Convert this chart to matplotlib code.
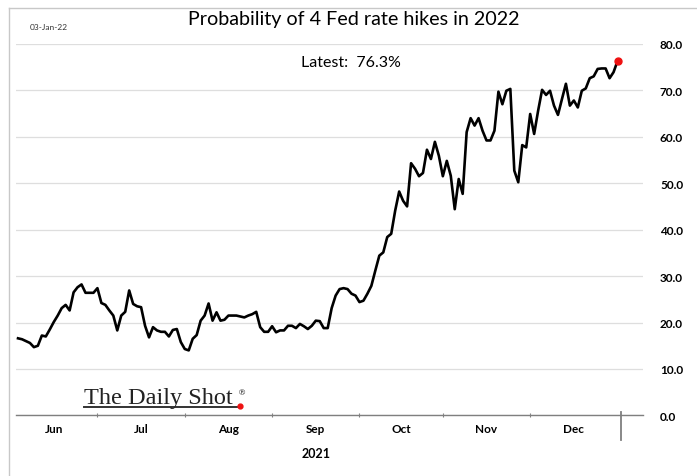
import numpy as np
import pandas as pd
import matplotlib
matplotlib.use("Agg")
import matplotlib.pyplot as plt
from matplotlib.lines import Line2D

# daily probability (%) of 4 Fed hikes in 2022, business days from 3-Jun-2021
prob = [
    16.6, 16.4, 16.0, 15.6, 14.7, 15.0, 17.2, 17.0, 18.5, 20.1,
    21.5, 23.1, 23.8, 22.6, 26.5, 27.6, 28.2, 26.4, 26.4, 26.4,
    27.4, 24.2, 23.8, 22.6, 21.5, 18.3, 21.5, 22.3, 26.9, 24.0,
    23.5, 23.3, 19.3, 16.8, 19.0, 18.3, 18.0, 18.0, 17.0, 18.4,
    18.6, 15.8, 14.3, 14.0, 16.5, 17.3, 20.4, 21.5, 24.1, 20.4,
    22.2, 20.4, 20.6, 21.5, 21.5, 21.5, 21.3, 21.1, 21.5, 21.8,
    22.3, 19.0, 18.0, 18.0, 19.2, 17.9, 18.3, 18.3, 19.3, 19.3,
    18.8, 19.7, 19.2, 18.6, 19.3, 20.4, 20.3, 18.8, 18.8, 23.1,
    25.8, 27.2, 27.4, 27.2, 26.2, 25.8, 24.4, 24.7, 26.2, 27.9,
    31.2, 34.4, 35.1, 38.4, 39.1, 44.1, 48.2, 46.2, 45.0, 54.3,
    53.1, 51.5, 52.2, 57.2, 55.2, 58.9, 55.9, 51.5, 54.8, 51.6,
    44.4, 50.9, 47.7, 61.0, 64.0, 62.4, 64.0, 61.3, 59.2, 59.2,
    61.3, 69.7, 67.0, 69.9, 70.3, 52.7, 50.2, 58.2, 57.7, 64.9,
    60.6, 65.6, 70.1, 69.0, 69.9, 66.7, 64.7, 68.1, 71.4, 66.7,
    67.8, 66.3, 69.9, 70.4, 72.6, 73.0, 74.6, 74.7, 74.7, 72.6,
    73.9, 76.3,
]
start_day = "2021-06-03"
month_starts = ["2021-06-01", "2021-07-01", "2021-08-01", "2021-09-01",
                "2021-10-01", "2021-11-01", "2021-12-01", "2022-01-03"]
month_names = ["Jun", "Jul", "Aug", "Sep", "Oct", "Nov", "Dec"]
yticks = [0, 10, 20, 30, 40, 50, 60, 70, 80]

# trading-day axis
all_days = pd.bdate_range(month_starts[0], month_starts[-1])
days = pd.bdate_range(start_day, periods=len(prob))
x = all_days.get_indexer(days)
bounds = all_days.searchsorted(pd.to_datetime(month_starts))

fig = plt.figure(figsize=(6.97, 4.77), dpi=100)
ax = fig.add_axes([0.023, 0.127, 0.9, 0.779])

ax.plot(x, prob, color="black", lw=1.9, solid_joinstyle="round", zorder=3)
ax.plot(x[-1], prob[-1], "o", color="#ee1111", ms=5, zorder=4)

ax.set_ylim(0, 80)
ax.set_xlim(bounds[0] + 1.5, bounds[-1] + 5.5)
ax.set_yticks(yticks)
ax.yaxis.tick_right()
ax.set_yticklabels([f"{v:.1f}" for v in yticks], fontfamily="Lato",
                   fontweight="bold", fontsize=8.5)
ax.tick_params(axis="y", length=0, pad=12)
ax.grid(axis="y", color="#dedede", lw=0.9)
ax.set_axisbelow(True)

for s in ["top", "right", "left"]:
    ax.spines[s].set_visible(False)
ax.spines["bottom"].set_color("#7f7f7f")
ax.spines["bottom"].set_linewidth(1.0)

ax.set_xticks(bounds[1:-1])
ax.set_xticklabels([])
ax.tick_params(axis="x", length=3.5, width=0.8, color="#7f7f7f", direction="inout")
ax.axvline(bounds[-1], ymin=-0.065, ymax=0.008, clip_on=False, color="#7f7f7f", lw=1.3)

mids = (bounds[:-2] + bounds[1:-1]) / 2
mids = list(mids) + [(bounds[-3] + bounds[-2]) / 2 + (bounds[-2] - bounds[-3])]
for m, name in zip(mids, month_names):
    ax.text(m, -1.7, name, ha="center", va="top", fontsize=8.5,
            fontfamily="Lato", fontweight="bold")
ax.text((bounds[0] + bounds[-1]) / 2, -6.9, "2021", ha="center", va="top",
        fontsize=9, fontfamily="Lato", fontweight="bold")

fig.text(0.507, 0.959, "Probability of 4 Fed rate hikes in 2022", ha="center",
         va="center", fontsize=14.2, fontfamily="Lato")
fig.text(0.503, 0.868, "Latest:  76.3%", ha="center", va="center",
         fontsize=11.5, fontfamily="Lato")
fig.text(0.043, 0.943, "03-Jan-22", ha="left", va="center", fontsize=6,
         fontfamily="Lato", color="#333333")

# logo
fig.text(0.121, 0.153, "The Daily Shot", ha="left", va="baseline",
         fontsize=17.5, fontfamily="Liberation Serif", color="#222222")
fig.text(0.342, 0.172, "®", ha="left", va="baseline", fontsize=6,
         fontfamily="DejaVu Serif", color="#222222")
fig.add_artist(Line2D([0.121, 0.340], [0.144, 0.144], color="#333333", lw=1.4))
fig.add_artist(Line2D([0.344], [0.146], marker="o", color="#ee1111", ms=3.5))

# frame
fig.add_artist(Line2D([0.013, 1.0], [0.981, 0.981], color="#c8c8c8", lw=1.0))
fig.add_artist(Line2D([0.013, 0.013], [0.0, 0.981], color="#c8c8c8", lw=1.0))

fig.savefig("out.png", dpi=100)
